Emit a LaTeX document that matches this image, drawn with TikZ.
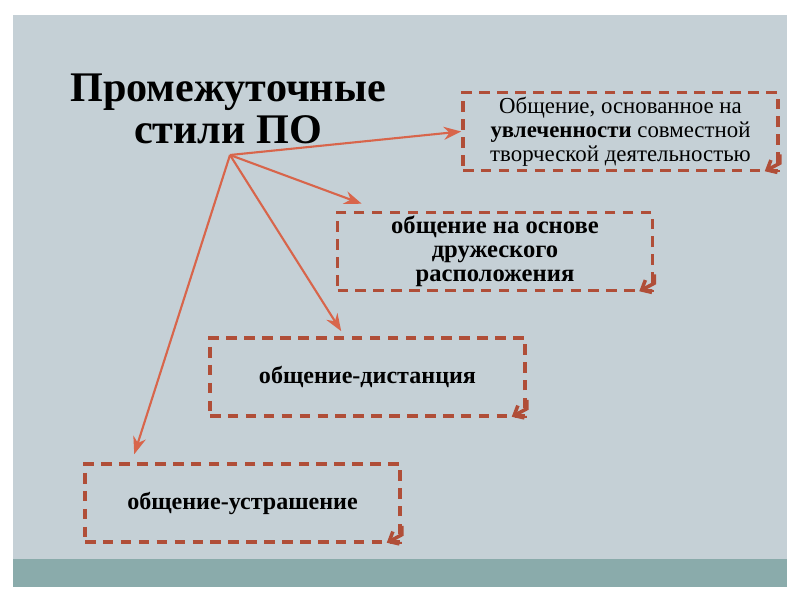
\documentclass[tikz,border=0pt]{standalone}
\usepackage{fontspec}
\setmainfont{Liberation Serif}
\usetikzlibrary{arrows.meta}

\definecolor{panelgray}{HTML}{C5D0D6}
\definecolor{bandteal}{HTML}{8AABAB}
\definecolor{dashred}{HTML}{B04E38}
\definecolor{arrowred}{HTML}{D8654B}

\tikzset{
    dashbox/.style={draw=dashred, line width=2pt,
        dash pattern=on 6pt off 4.2pt,
        minimum width=6.3cm, minimum height=1.56cm,
        align=center, inner sep=2pt},
    hook/.style={draw=dashred, line width=2pt,
        -{Straight Barb[length=1.6mm, width=2.8mm]}},
    link/.style={draw=arrowred, line width=1.2pt,
        -{Stealth[length=3.5mm, width=2.6mm]}}
}

\begin{document}
\begin{tikzpicture}[>=stealth, thick]

    % Slide
    \useasboundingbox (0,0) rectangle (16,12);
    \fill[white] (0,0) rectangle (16,12);
    \fill[panelgray] (0.26,0.26) rectangle (15.74,11.7);
    \fill[bandteal] (0.26,0.26) rectangle (15.74,0.82);

    % Title
    \node[align=center, font=\fontsize{24}{24}\selectfont\bfseries]
        (title) at (4.56,9.82) {Промежуточные\\стили ПО};
    \coordinate (O) at (4.6,8.9);

    % Boxes
    \node[dashbox, font=\fontsize{13}{13.6}\selectfont]
        (b1) at (12.41,9.37)
        {Общение, основанное на\\\textbf{увлеченности} совместной\\творческой деятельностью};
    \node[dashbox, font=\fontsize{14}{13.6}\selectfont\bfseries]
        (b2) at (9.9,6.97)
        {общение на основе\\дружеского\\расположения};
    \node[dashbox, font=\fontsize{13.7}{14}\selectfont\bfseries]
        (b3) at (7.35,4.46) {общение-дистанция};
    \node[dashbox, font=\fontsize{13.7}{14}\selectfont\bfseries]
        (b4) at (4.85,1.94) {общение-устрашение};

    % Corner hooks
    \foreach \b in {b1,b2,b3,b4}
        \draw[hook] ([yshift=0.36cm]\b.south east) -- ([yshift=0.18cm]\b.south east)
            -- ([xshift=-0.3cm, yshift=0.02cm]\b.south east);

    % Arrows
    \draw[link] (O) -- (b1.west);
    \draw[link] (O) -- ([xshift=0.52cm, yshift=0.14cm]b2.north west);
    \draw[link] (O) -- ([xshift=2.66cm, yshift=0.1cm]b3.north west);
    \draw[link] (O) -- ([xshift=1.02cm, yshift=0.16cm]b4.north west);

\end{tikzpicture}
\end{document}
